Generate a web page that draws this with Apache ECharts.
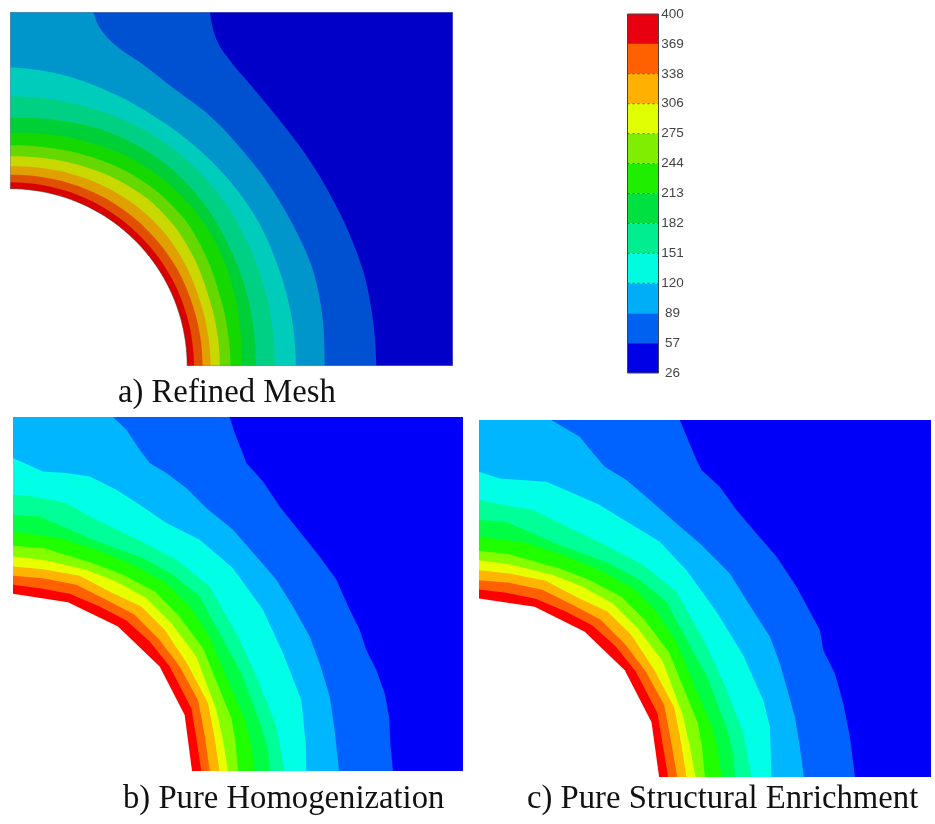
<!DOCTYPE html>
<html><head><meta charset="utf-8">
<style>html,body{margin:0;padding:0;background:#fff}#c{width:935px;height:824px;filter:blur(0.4px)}</style>
<script src="https://cdn.jsdelivr.net/npm/echarts@6/dist/echarts.min.js"></script>
</head><body><div id="c"></div>
<script>
// Colour scale
const tickLabels = ['26','57','89','120','151','182','213','244','275','306','338','369','400'];
const dottedLevels = ['120','151','182','213','244','275','306','338'];
const barColors = ['#0000e6','#0060f0','#00aef8','#00fbe0','#00ee90','#00e040','#20ee00','#80ee00','#e0ff00','#ffb000','#ff6000','#e80010'];
const refinedColors = ['#0000c8','#0050d2','#0096cc','#00ccbc','#00d084','#00d038','#14d800','#64d800','#c8d800','#e0a000','#e05000','#d80000'];
const coarseColors = ['#0000fa','#0062ff','#00b6ff','#00ffe6','#00ff96','#00ff44','#20ff00','#84ff00','#e8ff00','#ffb400','#ff6000','#ff0000'];
const captions = ['a) Refined Mesh','b) Pure Homogenization','c) Pure Structural Enrichment'];

// Panel a: outer contours read as x,y
const a26 = [[630,37],[640,90],[660,140],[700,195],[760,265],[830,350],[900,440],[960,530],[1020,640],[1060,730],[1095,830],[1115,930],[1125,1010],[1130,1099]];
const a57 = [[280,37],[300,85],[350,140],[430,195],[520,265],[620,340],[700,420],[790,530],[860,640],[920,760],[950,850],[970,970],[975,1099]];
// Panel a: inner contours read as distance from the hole centre, every 10 degrees from the bottom edge to the left edge
const aAngles = [0,10,20,30,40,50,60,70,80,90];
const a89  = [858,858,858,862,862,862,865,875,888,896];
const a120 = [795,797,800,805,812,815,815,812,810,809];
const a151 = [738,740,745,750,760,765,765,760,750,744];
const a182 = [695,700,710,720,725,725,722,712,705,699];
const a213 = [662,662,665,675,685,685,680,672,665,662];
const a244 = [630,630,632,640,648,650,645,638,632,629];
const a275 = [602,602,603,608,612,612,610,606,602,599];
const a306 = [578,578,578,580,580,580,579,577,575,574];
const a338 = [552,552,552,552,552,552,552,552,551,551];
const aHole = [532,532,532,532,532,532,532,532,532,532];

// Panel b contours
const b26 = [[690,22],[705,70],[725,120],[740,160],[790,215],[840,290],[900,365],[960,440],[1010,510],[1050,600],[1080,660],[1100,720],[1130,780],[1155,850],[1168,920],[1172,1000],[1180,1083]];
const b57 = [[340,22],[380,60],[420,120],[450,160],[500,190],[560,235],[620,295],[700,360],[770,440],[830,510],[880,590],[930,680],[960,760],[990,860],[1005,960],[1018,1083]];
const b89 = [[40,145],[130,185],[200,190],[270,200],[350,240],[420,285],[500,340],[600,390],[700,475],[790,600],[850,730],[905,870],[918,1000],[920,1083]];
const b120 = [[40,255],[100,260],[200,280],[270,320],[415,390],[530,450],[630,530],[715,680],[775,810],[830,950],[855,1083]];
const b151 = [[40,315],[120,320],[280,390],[430,445],[520,495],[600,560],[665,680],[725,790],[785,950],[805,1020],[810,1083]];
const b182 = [[40,365],[180,385],[290,420],[400,465],[500,520],[570,590],[630,680],[675,790],[740,940],[755,1010],[765,1083]];
const b213 = [[40,408],[130,415],[280,460],[370,495],[465,545],[535,615],[610,715],[695,925],[708,1000],[715,1083]];
const b244 = [[40,440],[130,450],[260,480],[350,515],[440,565],[515,640],[590,740],[650,900],[670,990],[685,1083]];
const b275 = [[40,470],[130,478],[240,498],[340,550],[425,590],[495,660],[565,765],[625,880],[645,985],[660,1083]];
const b306 = [[40,498],[130,505],[230,525],[320,570],[405,615],[480,690],[540,770],[595,870],[615,975],[630,1083]];
const b338 = [[40,525],[120,535],[210,552],[300,590],[380,632],[450,695],[510,770],[575,895],[590,985],[605,1083]];
const bHole = [[40,552],[205,577],[355,650],[480,770],[555,915],[577,1083]];

// Panel c contours
const c26 = [[630,30],[655,90],[680,150],[695,180],[750,230],[800,300],[860,370],[920,440],[980,530],[1050,660],[1060,720],[1095,790],[1120,880],[1140,980],[1155,1100]];
const c57 = [[245,30],[330,80],[370,130],[405,170],[470,210],[540,270],[620,340],[690,400],[780,490],[830,570],[900,680],[930,760],[950,830],[975,920],[990,1010],[1002,1100]];
const c89 = [[28,185],[90,205],[230,215],[300,245],[390,285],[480,340],[570,395],[650,480],[740,605],[820,735],[880,870],[900,950],[905,1100]];
const c120 = [[28,270],[100,285],[190,300],[260,334],[404,404],[519,464],[619,544],[704,694],[764,824],[819,964],[845,1100]];
const c151 = [[28,330],[108,335],[268,404],[418,459],[509,509],[589,574],[654,694],[714,804],[774,964],[790,1034],[795,1100]];
const c182 = [[28,380],[168,398],[278,434],[388,479],[489,534],[559,604],[619,694],[664,804],[729,954],[744,1024],[755,1100]];
const c213 = [[28,422],[118,432],[268,474],[358,509],[454,559],[524,629],[599,729],[684,939],[697,1014],[705,1100]];
const c244 = [[28,450],[118,462],[248,494],[338,529],[428,579],[504,654],[579,754],[639,914],[659,1004],[677,1100]];
const c275 = [[28,480],[118,490],[228,512],[328,564],[413,604],[484,674],[554,779],[614,894],[634,999],[650,1100]];
const c306 = [[28,510],[118,518],[218,539],[308,584],[393,629],[468,704],[528,784],[583,884],[603,989],[622,1100]];
const c338 = [[28,538],[110,548],[198,566],[288,604],[368,646],[438,709],[498,784],[563,909],[578,999],[595,1100]];
const cHole = [[28,565],[195,590],[345,665],[465,780],[545,935],[568,1100]];

// Draws a read radial profile as a round curve in panel a
function polar(rs){
  const out=[];
  for(let d=90;d>=0;d-=2){
    const i=Math.min(Math.floor(d/10),rs.length-2), f=(d-aAngles[i])/10;
    const r=rs[i]+(rs[i+1]-rs[i])*f, t=d*Math.PI/180;
    out.push([30+r*Math.cos(t),1099-r*Math.sin(t)]);
  }
  return out;
}
// Rounds the drawn line between read points (the refined mesh has smooth contours)
function round(pts){
  const out=[];
  for(let i=0;i<pts.length-1;i++){
    const p0=pts[Math.max(i-1,0)],p1=pts[i],p2=pts[i+1],p3=pts[Math.min(i+2,pts.length-1)];
    for(let s=0;s<6;s++){
      const t=s/6,t2=t*t,t3=t2*t;
      out.push([0,1].map(k=>0.5*(2*p1[k]+(p2[k]-p0[k])*t+(2*p0[k]-5*p1[k]+4*p2[k]-p3[k])*t2+(3*p1[k]-p0[k]-3*p2[k]+p3[k])*t3)));
    }
  }
  out.push(pts[pts.length-1]);
  return out;
}
const panels = [
  {x:[30,1360],y:[37,1099],colors:refinedColors,outline:true,hole:polar(aHole),
   contours:[round(a26),round(a57),polar(a89),polar(a120),polar(a151),polar(a182),polar(a213),polar(a244),polar(a275),polar(a306),polar(a338)],
   box:{left:10,top:12,width:443,height:354}},
  {x:[40,1390],y:[22,1083],colors:coarseColors,outline:false,hole:bHole,
   contours:[b26,b57,b89,b120,b151,b182,b213,b244,b275,b306,b338],
   box:{left:13,top:417,width:450,height:354}},
  {x:[28,1383],y:[30,1100],colors:coarseColors,outline:false,hole:cHole,
   contours:[c26,c57,c89,c120,c151,c182,c213,c244,c275,c306,c338],
   box:{left:479,top:420,width:452,height:357}}
];

const grid=[],xAxis=[],yAxis=[],series=[];
panels.forEach((p,i)=>{
  grid.push(p.box);
  xAxis.push({type:'value',gridIndex:i,min:p.x[0],max:p.x[1],show:false});
  yAxis.push({type:'value',gridIndex:i,min:p.y[0],max:p.y[1],inverse:true,show:false});
  const items=p.contours.map((c,k)=>[k]);
  series.push({
    type:'custom',xAxisIndex:i,yAxisIndex:i,coordinateSystem:'cartesian2d',clip:true,silent:true,
    data:[[-1]].concat(items).concat([[99]]),
    renderItem(params,api){
      const k=api.value(0);
      if(k===-1){
        const pts=[[p.x[0],p.y[0]],[p.x[1],p.y[0]],[p.x[1],p.y[1]],[p.x[0],p.y[1]]].map(q=>api.coord(q));
        return {type:'polygon',shape:{points:pts},style:{fill:p.colors[0]}};
      }
      if(k===99){
        const ring=p.hole.slice();
        ring.push([p.x[0],p.y[1]]);
        const kids=[{type:'polygon',shape:{points:ring.map(q=>api.coord(q))},style:{fill:'#fff'}}];
        if(p.outline){
          kids.push({type:'polyline',shape:{points:p.hole.map(q=>api.coord(q))},style:{fill:null,stroke:'rgba(90,40,30,0.6)',lineWidth:1}});
          kids.push({type:'polyline',shape:{points:[p.hole[0],[p.x[0],p.y[0]],[p.x[1],p.y[0]],[p.x[1],p.y[1]],p.hole[p.hole.length-1]].map(q=>api.coord(q))},style:{fill:null,stroke:'#7f86a8',lineWidth:1}});
        }
        return {type:'group',children:kids};
      }
      const c=p.contours[k].slice();
      c.push([p.x[0],p.y[1]]);
      if(p.contours[k][0][1]===p.y[0]) c.push([p.x[0],p.y[0]]);
      return {type:'polygon',shape:{points:c.map(q=>api.coord(q))},style:{fill:p.colors[k+1]}};
    }
  });
});

// Colour bar
grid.push({left:627.5,top:14,width:31,height:359,show:true,borderColor:'#444',borderWidth:1,backgroundColor:'transparent',z:5});
xAxis.push({type:'value',gridIndex:3,min:0,max:1,show:false});
yAxis.push({type:'value',gridIndex:3,min:0,max:12,interval:1,position:'right',
  axisLine:{show:false},axisTick:{show:false},splitLine:{show:false},
  axisLabel:{margin:14,align:'center',color:'#444',fontFamily:'Liberation Sans',fontSize:13.5,formatter:(v)=>tickLabels[v]}});
series.push({
  type:'custom',xAxisIndex:3,yAxisIndex:3,silent:true,z:1,
  data:barColors.map((c,i)=>[i]),
  renderItem(params,api){
    const i=api.value(0);
    const a=api.coord([0,i+1]),b=api.coord([1,i]);
    const kids=[{type:'rect',shape:{x:a[0],y:a[1],width:b[0]-a[0],height:b[1]-a[1]},style:{fill:barColors[i]}}];
    if(dottedLevels.indexOf(tickLabels[i+1])>=0){
      kids.push({type:'line',shape:{x1:a[0],y1:a[1],x2:b[0],y2:a[1]},z2:5,style:{stroke:'rgba(30,60,20,0.7)',lineWidth:1,lineDash:[2,3]}});
    }
    return {type:'group',children:kids};
  }
});

const capStyle={fontFamily:'Liberation Serif',fontSize:32.7,fontWeight:'normal',color:'#111'};
const chart=echarts.init(document.getElementById('c'),null,{renderer:'canvas'});
chart.setOption({
  animation:false,backgroundColor:'#fff',
  title:[
    {text:captions[0],left:118,top:377,padding:0,textStyle:capStyle},
    {text:captions[1],left:123,top:783,padding:0,textStyle:capStyle},
    {text:captions[2],left:527,top:783,padding:0,textStyle:capStyle}
  ],
  grid,xAxis,yAxis,series
});
</script></body></html>
